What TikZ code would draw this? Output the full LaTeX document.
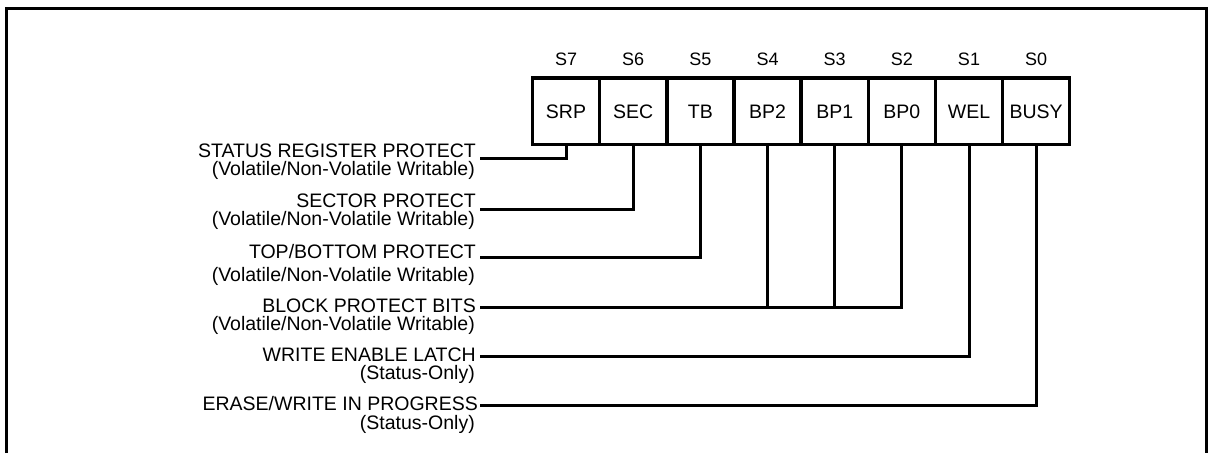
\documentclass[tikz,border=0pt]{standalone}
\usepackage{fontspec}
\setmainfont{Liberation Sans}
\usetikzlibrary{calc}
\begin{document}
\begin{tikzpicture}[x=1pt,y=-1pt,
  cell/.style={draw,line width=3.5pt,minimum width=67.16pt,minimum height=66.5pt,inner sep=0pt,anchor=north west},
  celltext/.style={font=\fontsize{19.5}{20}\selectfont,anchor=base,inner sep=0pt},
  bitlabel/.style={font=\fontsize{18}{19}\selectfont,anchor=base,inner sep=0pt},
  mainlab/.style={font=\fontsize{19.5}{20}\selectfont,anchor=base east,inner sep=0pt},
  sublab/.style={font=\fontsize{19.5}{20}\selectfont,anchor=base east,inner sep=0pt},
  conn/.style={line width=3pt},
  frame/.style={line width=3pt}]
\useasboundingbox[fill=white] (0,0) rectangle (1209,453);
% frame
\draw[frame] (6.8,453) -- (6.8,8.7) -- (1206.7,8.7) -- (1206.7,453);
% register cells
\foreach \i/\t [count=\k from 0] in {7/SRP,6/SEC,5/TB,4/BP2,3/BP1,2/BP0,1/WEL,0/BUSY} {
  \node[cell] (c\i) at (530.7+\k*67.16,76) {};
  \node[celltext] (t\i) at ($(c\i.north)+(0,42.3)$) {\t};
  \node[bitlabel] (s\i) at ($(c\i.north)+(0,-10.3)$) {S\i};
}
% labels
\node[mainlab] (l7) at (476,157) {STATUS REGISTER PROTECT};
\node[sublab] (m7) at (475,175) {(Volatile/Non-Volatile Writable)};
\node[mainlab] (l6) at (476,207.5) {SECTOR PROTECT};
\node[sublab] (m6) at (475,225.5) {(Volatile/Non-Volatile Writable)};
\node[mainlab] (l5) at (476,258.3) {TOP/BOTTOM PROTECT};
\node[sublab] (m5) at (475,281.7) {(Volatile/Non-Volatile Writable)};
\node[mainlab] (l4) at (476,312.2) {BLOCK PROTECT BITS};
\node[sublab] (m4) at (475,330.5) {(Volatile/Non-Volatile Writable)};
\node[mainlab] (l1) at (476,361.7) {WRITE ENABLE LATCH};
\node[sublab] (m1) at (475,379.5) {(Status-Only)};
\node[mainlab] (l0) at (478,410.7) {ERASE/WRITE IN PROGRESS};
\node[sublab] (m0) at (475,429.5) {(Status-Only)};
% line ends
\coordinate (e7) at (480,158);
\coordinate (e6) at (480,209);
\coordinate (e5) at (480,257.5);
\coordinate (e4) at (480,307.3);
\coordinate (e1) at (480,356.5);
\coordinate (e0) at (480,405.5);
% connectors
\draw[conn] (c7.south) |- (e7);
\draw[conn] (c6.south) |- (e6);
\draw[conn] (c5.south) |- (e5);
\draw[conn] (c2.south) |- (e4);
\draw[conn] (c4.south) -- (c4.south |- e4);
\draw[conn] (c3.south) -- (c3.south |- e4);
\draw[conn] (c1.south) |- (e1);
\draw[conn] (c0.south) |- (e0);
\end{tikzpicture}
\end{document}
